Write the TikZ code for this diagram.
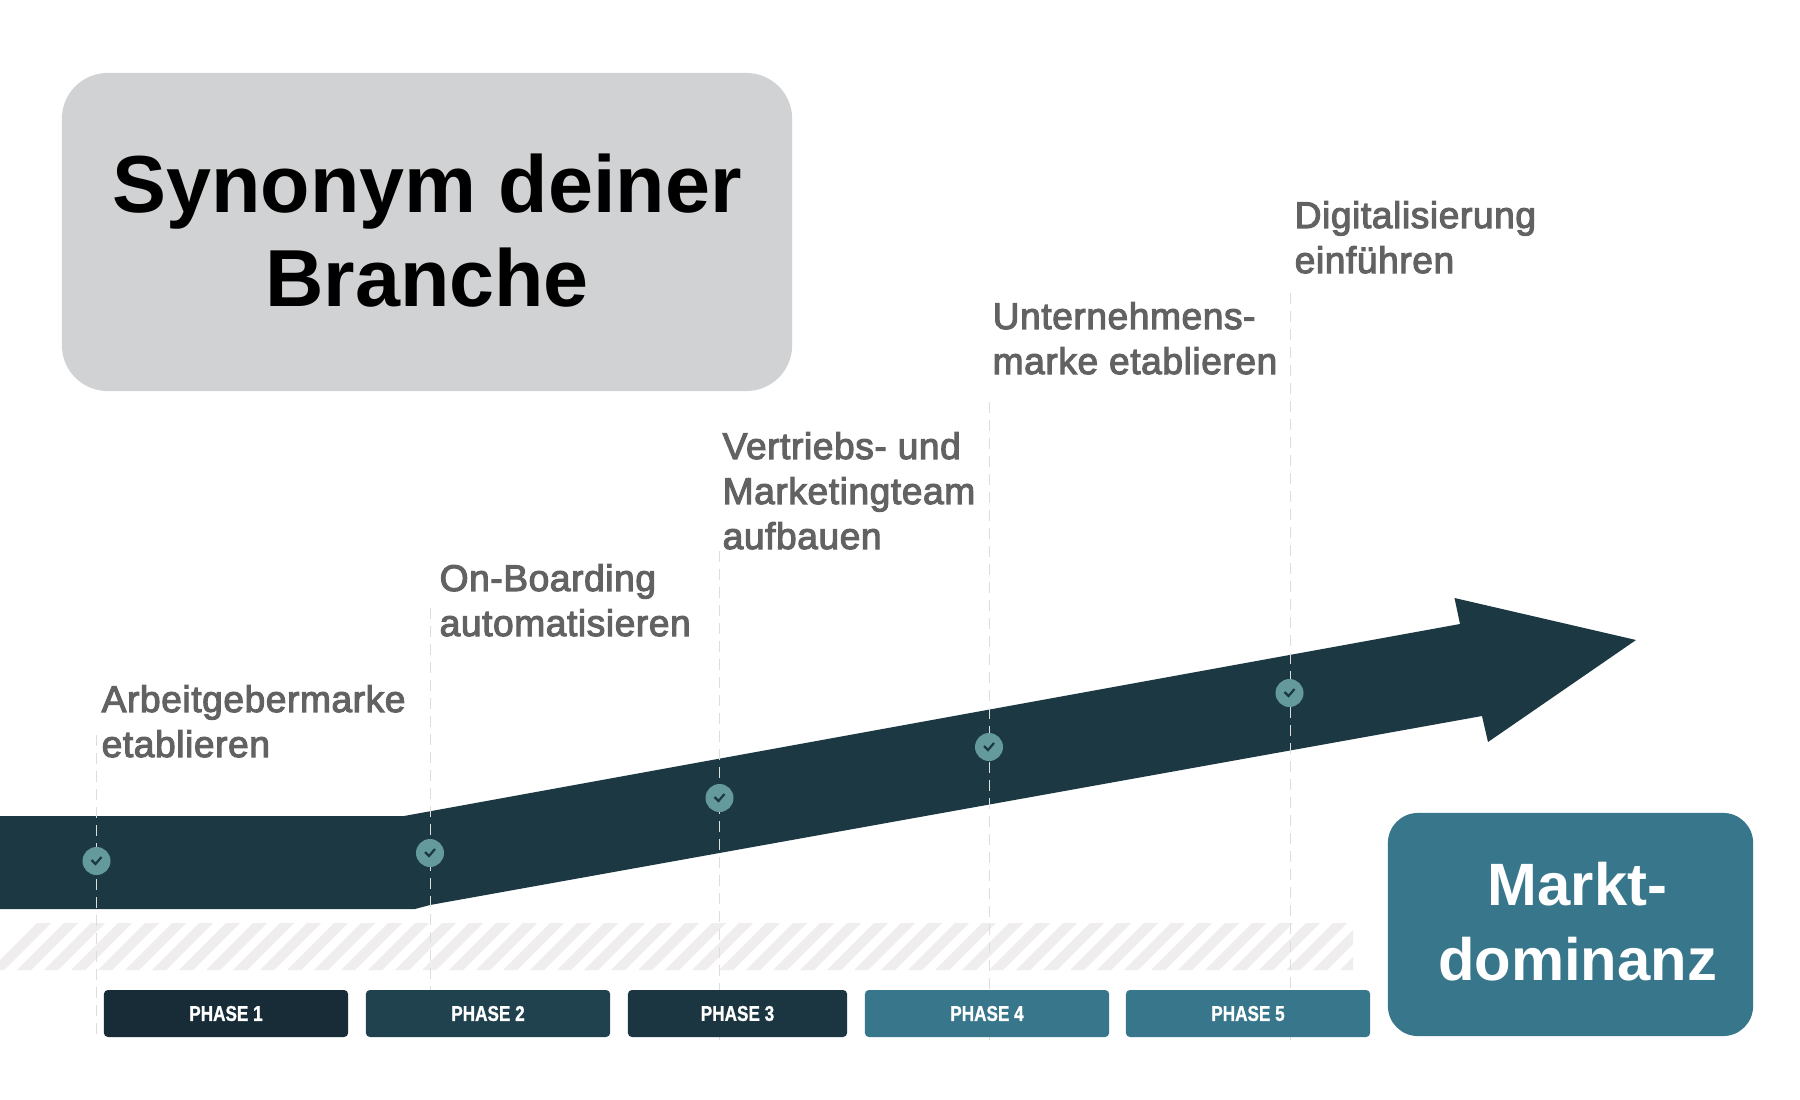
\documentclass[tikz,border=0pt]{standalone}
\usepackage{fontspec}
\setmainfont{Liberation Sans}
\newfontfamily\medfont[FakeBold=3,LetterSpace=1.6]{Liberation Sans}
\newfontfamily\condfont[FakeStretch=0.8,FakeBold=1]{Liberation Sans Bold}
\definecolor{arrowc}{HTML}{1C3843}
\definecolor{tealc}{HTML}{38778B}
\definecolor{greyc}{HTML}{D1D2D4}
\definecolor{labelc}{HTML}{626262}
\definecolor{hatchc}{HTML}{EFEDED}
\definecolor{dashc}{HTML}{DDDDDD}
\definecolor{dotc}{HTML}{649A9C}
\definecolor{phaseA}{HTML}{172C36}
\definecolor{phaseB}{HTML}{20424F}
\definecolor{phaseC}{HTML}{1B3641}
\tikzset{
  x=0.01cm,y=-0.01cm,
  phasebox/.style={rounded corners=0.4mm,inner sep=0,minimum height=4.7mm,text=white,font=\condfont\fontsize{6.1pt}{7pt}\selectfont},
  steplabel/.style={anchor=base west,inner sep=0,align=left,text=labelc,font=\medfont\fontsize{10.55pt}{12.8pt}\selectfont},
  guide/.style={draw=dashc,line width=0.08mm,dash pattern=on 1.1mm off 0.7mm},
  dot/.style={circle,fill=dotc,inner sep=0,minimum size=2.8mm},
  tick/.style={draw=arrowc,line width=0.22mm},
}
\begin{document}
\begin{tikzpicture}
\useasboundingbox[fill=white] (0,0) rectangle (1800,1100);
% hatch band
\begin{scope}
\clip (0,923) rectangle (1353,970);
\foreach \i in {0,...,52}{
  \fill[hatchc] ({\i*27-10},970) -- ({\i*27+4},970) -- ({\i*27+51},923) -- ({\i*27+37},923) -- cycle;
}
\end{scope}
% arrow
\fill[arrowc] (0,816) -- (404,816) -- (1460,624) -- (1454.5,598) -- (1636,640) -- (1488,742) -- (1482,716) -- (430,905) -- (415,909) -- (0,909) -- cycle;
% guide ends
\coordinate (t1) at (96.5,735);
\coordinate (b1) at (96.5,1040);
\coordinate (t2) at (430,608);
\coordinate (b2) at (430,1040);
\coordinate (t3) at (719.5,551);
\coordinate (b3) at (719.5,1040);
\coordinate (t4) at (989,402);
\coordinate (b4) at (989,1040);
\coordinate (t5) at (1290,293);
\coordinate (b5) at (1290,1040);
\foreach \n in {1,...,5}{ \draw[guide] (t\n) -- (b\n); }
% dots
\node[dot] (d1) at (96.5,861) {};
\node[dot] (d2) at (430,853) {};
\node[dot] (d3) at (719.5,798) {};
\node[dot] (d4) at (989,747) {};
\node[dot] (d5) at (1289.5,693) {};
\foreach \n in {1,...,5}{
  \draw[tick] ([shift={(-5,-1)}]d\n.center) -- ([shift={(-1,3)}]d\n.center) -- ([shift={(5,-4)}]d\n.center);
}
% phases
\node[phasebox,fill=phaseA,minimum width=24.4mm] (p1) at (226,1013.5) {\raisebox{-0.3pt}{PHASE 1}};
\node[phasebox,fill=phaseB,minimum width=24.4mm] (p2) at (488,1013.5) {\raisebox{-0.3pt}{PHASE 2}};
\node[phasebox,fill=phaseC,minimum width=21.9mm] (p3) at (737.5,1013.5) {\raisebox{-0.3pt}{PHASE 3}};
\node[phasebox,fill=tealc,minimum width=24.4mm] (p4) at (987,1013.5) {\raisebox{-0.3pt}{PHASE 4}};
\node[phasebox,fill=tealc,minimum width=24.4mm] (p5) at (1248,1013.5) {\raisebox{-0.3pt}{PHASE 5}};
% labels
\node[steplabel] (l1) at (101,757) {Arbeitgebermarke\\etablieren};
\node[steplabel] (l2) at (439,636) {On-Boarding\\automatisieren};
\node[steplabel] (l3) at (722,549) {Vertriebs- und\\Marketingteam\\aufbauen};
\node[steplabel] (l4) at (992,374) {Unternehmens-\\marke etablieren};
\node[steplabel] (l5) at (1294,273) {Digitalisierung\\einführen};
% boxes
\node[fill=greyc,rounded corners=4.6mm,minimum width=73mm,minimum height=31.8mm,inner sep=0,align=center,text=black,font=\bfseries\fontsize{23pt}{26.7pt}\selectfont] (title) at (427,232) {\raisebox{1.2pt}{Synonym deiner}\\\raisebox{1.2pt}{Branche}};
\node[fill=tealc,rounded corners=3mm,minimum width=36.5mm,minimum height=22.3mm,inner sep=0,align=center,text=white,font=\bfseries\fontsize{17pt}{21.2pt}\selectfont] (goal) at (1570.5,924.5) {\hspace*{4pt}\raisebox{1.7pt}{Markt-}\\\hspace*{4pt}\raisebox{1.7pt}{dominanz}};
\end{tikzpicture}
\end{document}
